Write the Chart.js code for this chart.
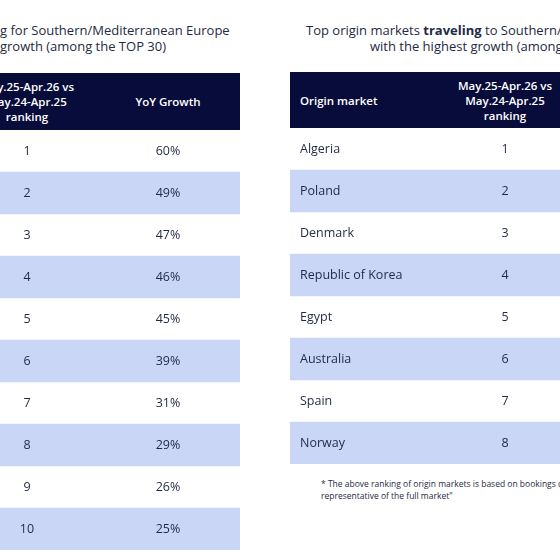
<!DOCTYPE html>
<html>
<head>
<meta charset="utf-8">
<script src="https://cdn.jsdelivr.net/npm/chart.js@4"></script>
<style>
  body { margin: 0; width: 560px; height: 560px; overflow: hidden; background: #fff; position: relative;
         font-family: "Open Sans", sans-serif; color: #1f2a44; }
  .t { position: absolute; font-size: 13px; line-height: 16px; white-space: nowrap; }
  .hdr { position: absolute; background: #080c3a; color: #fff; font-size: 11.5px; font-weight: 600; }
  .hdr div { position: absolute; top: 0; height: 100%; display: flex; align-items: center; justify-content: center; text-align: center; line-height: 15px; }
  .box { position: absolute; }
  .note { position: absolute; font-size: 8.5px; line-height: 12px; left: 321px; top: 478px; white-space: nowrap; }
</style>
</head>
<body>
<div class="t" style="left:0;top:22px;">g for Southern/Mediterranean Europe</div>
<div class="t" style="left:0;top:38px;">growth (among the TOP 30)</div>
<div class="t" style="left:306px;top:22px;">Top origin markets <b>traveling</b> to Southern/Mediterranean Europe</div>
<div class="t" style="left:370px;top:38px;">with the highest growth (among the TOP 30)</div>

<div class="hdr" style="left:0;top:73px;width:240px;height:57px;">
  <div style="left:-40px;width:134px;">May.25-Apr.26 vs<br>May.24-Apr.25<br>ranking</div>
  <div style="left:108px;width:120px;">YoY Growth</div>
</div>
<div class="box" style="left:0;top:130px;width:240px;height:420px;"><canvas id="left"></canvas></div>

<div class="hdr" style="left:290px;top:72px;width:280px;height:56px;">
  <div style="left:10px;justify-content:flex-start;">Origin market</div>
  <div style="left:148px;width:134px;">May.25-Apr.26 vs<br>May.24-Apr.25<br>ranking</div>
</div>
<div class="box" style="left:290px;top:128px;width:280px;height:336px;"><canvas id="right"></canvas></div>

<div class="note">* The above ranking of origin markets is based on bookings data, not<br>representative of the full market"</div>

<script>
var leftRanks = ['1', '2', '3', '4', '5', '6', '7', '8', '9', '10'];
var leftGrowth = ['60%', '49%', '47%', '46%', '45%', '39%', '31%', '29%', '26%', '25%'];
var rightMarkets = ['Algeria', 'Poland', 'Denmark', 'Republic of Korea', 'Egypt', 'Australia', 'Spain', 'Norway'];
var rightRanks = ['1', '2', '3', '4', '5', '6', '7', '8'];

var BAND = '#c9d6f6';
var INK = '#1f2a44';

var cellText = {
    id: 'cellText',
    afterDatasetsDraw: function (chart, args, opts) {
        var ctx = chart.ctx;
        var x = chart.scales.x, y = chart.scales.y;
        ctx.save();
        ctx.fillStyle = INK;
        ctx.font = '12.5px "Open Sans", sans-serif';
        ctx.textBaseline = 'middle';
        opts.columns.forEach(function (col) {
            ctx.textAlign = col.align;
            col.values.forEach(function (v, i) {
                ctx.fillText(v, x.getPixelForValue(col.at), y.getPixelForValue(i));
            });
        });
        ctx.restore();
    }
};

function table(id, labels, width, columns) {
    new Chart(document.getElementById(id), {
        type: 'bar',
        data: {
            labels: labels,
            datasets: [{
                data: labels.map(function (l, i) { return i % 2 ? [0, width] : null; }),
                backgroundColor: BAND,
                barPercentage: 1,
                categoryPercentage: 1
            }]
        },
        options: {
            indexAxis: 'y',
            responsive: true,
            maintainAspectRatio: false,
            animation: false,
            layout: { padding: 0 },
            plugins: { legend: { display: false }, tooltip: { enabled: false }, cellText: { columns: columns } },
            scales: {
                x: { type: 'linear', min: 0, max: width, display: false },
                y: { display: false }
            }
        },
        plugins: [cellText]
    });
}

table('left', leftRanks, 240, [
    { at: 27, align: 'center', values: leftRanks },
    { at: 168, align: 'center', values: leftGrowth }
]);
table('right', rightMarkets, 280, [
    { at: 10, align: 'left', values: rightMarkets },
    { at: 215, align: 'center', values: rightRanks }
]);
</script>
</body>
</html>
